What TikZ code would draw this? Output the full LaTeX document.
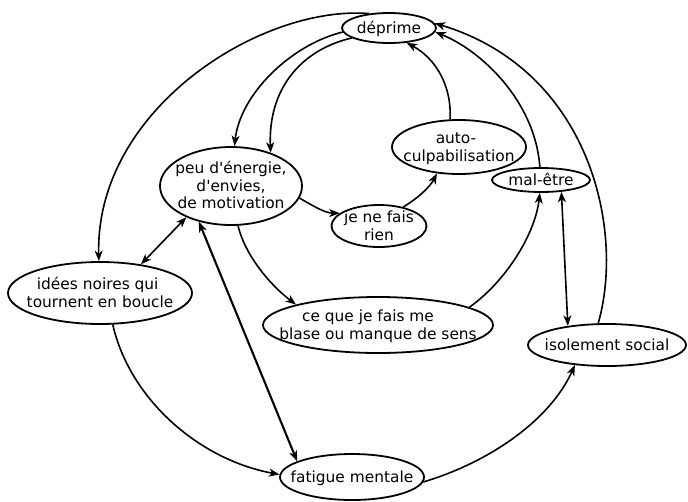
\documentclass[tikz,border=0pt]{standalone}
\usepackage{fontspec}
\setmainfont{DejaVu Sans}
\usetikzlibrary{arrows.meta,shapes.geometric}
\newcommand{\ztxt}[1]{\makebox[0pt]{\raisebox{-5.5pt}[0pt][0pt]{\begin{tabular}{@{}c@{}}#1\end{tabular}}}}
\begin{document}
\begin{tikzpicture}[x=1pt,y=-1pt,
  font=\fontsize{15.4}{17.5}\selectfont,
  ell/.style={draw, ellipse, line width=1.8pt, inner sep=0pt},
  tip/.tip={Stealth[length=10.5pt,width=8pt,inset=3pt]},
  conn/.style={line width=1.6pt, -tip},
  dconn/.style={line width=1.6pt, tip-tip}]
\useasboundingbox (0,0) rectangle (688,501);

\node[ell, minimum width=94pt, minimum height=30pt] (dep) at (389,28) {\ztxt{déprime}};
\node[ell, minimum width=142pt, minimum height=78pt] (peu) at (231,186) {\ztxt{peu d\textquotesingle énergie,\\d\textquotesingle envies,\\de motivation}};
\node[ell, minimum width=95pt, minimum height=42pt] (je) at (379,226) {\ztxt{je ne fais\\rien}};
\node[ell, minimum width=134pt, minimum height=54pt] (auto) at (459,147) {\ztxt{auto-\hspace*{6pt}\\culpabilisation}};
\node[ell, minimum width=98pt, minimum height=24pt] (mal) at (541,180) {\ztxt{mal-être}};
\node[ell, minimum width=184pt, minimum height=62pt] (ide) at (100,293) {\ztxt{idées noires qui\hspace*{4.6pt}\\tournent en boucle}};
\node[ell, minimum width=230pt, minimum height=56pt] (ce) at (378,325) {\ztxt{ce que je fais me\hspace*{20pt}\\blase ou manque de sens}};
\node[ell, minimum width=158pt, minimum height=42pt] (iso) at (607,345) {\ztxt{isolement social}};
\node[ell, minimum width=144pt, minimum height=46pt] (fat) at (352,477) {\ztxt{fatigue mentale}};

\draw[conn] (dep.185) .. controls (290,45) and (240,95) .. (peu.85);
\draw[conn] (dep.195) .. controls (300,50) and (268,90) .. (peu.40);
\draw[conn] (dep.144) .. controls (260,5) and (95,110) .. (ide.92);
\draw[dconn] (peu.215) -- (ide.35);
\draw[dconn, line width=2.1pt] (peu.228) -- (fat.164);
\draw[conn] (peu.-10) .. controls (315,207) and (325,213) .. (je.162);
\draw[conn] (peu.-80) .. controls (245,255) and (270,285) .. (ce.166);
\draw[conn] (je.38) .. controls (418,198) and (430,187) .. (auto.230);
\draw[conn] (auto.108) .. controls (452,85) and (435,58) .. (dep.-40);
\draw[conn] (mal.95) .. controls (535,100) and (480,50) .. (dep.-5);
\draw[conn] (iso.112) .. controls (625,230) and (590,70) .. (dep.6);
\draw[conn] (ce.11) .. controls (505,282) and (535,235) .. (mal.-95);
\draw[dconn] (mal.-30) -- (iso.154);
\draw[conn] (ide.-68) .. controls (130,400) and (200,460) .. (fat.178);
\draw[conn] (fat.-4) .. controls (490,462) and (550,420) .. (iso.212);
\end{tikzpicture}
\end{document}
